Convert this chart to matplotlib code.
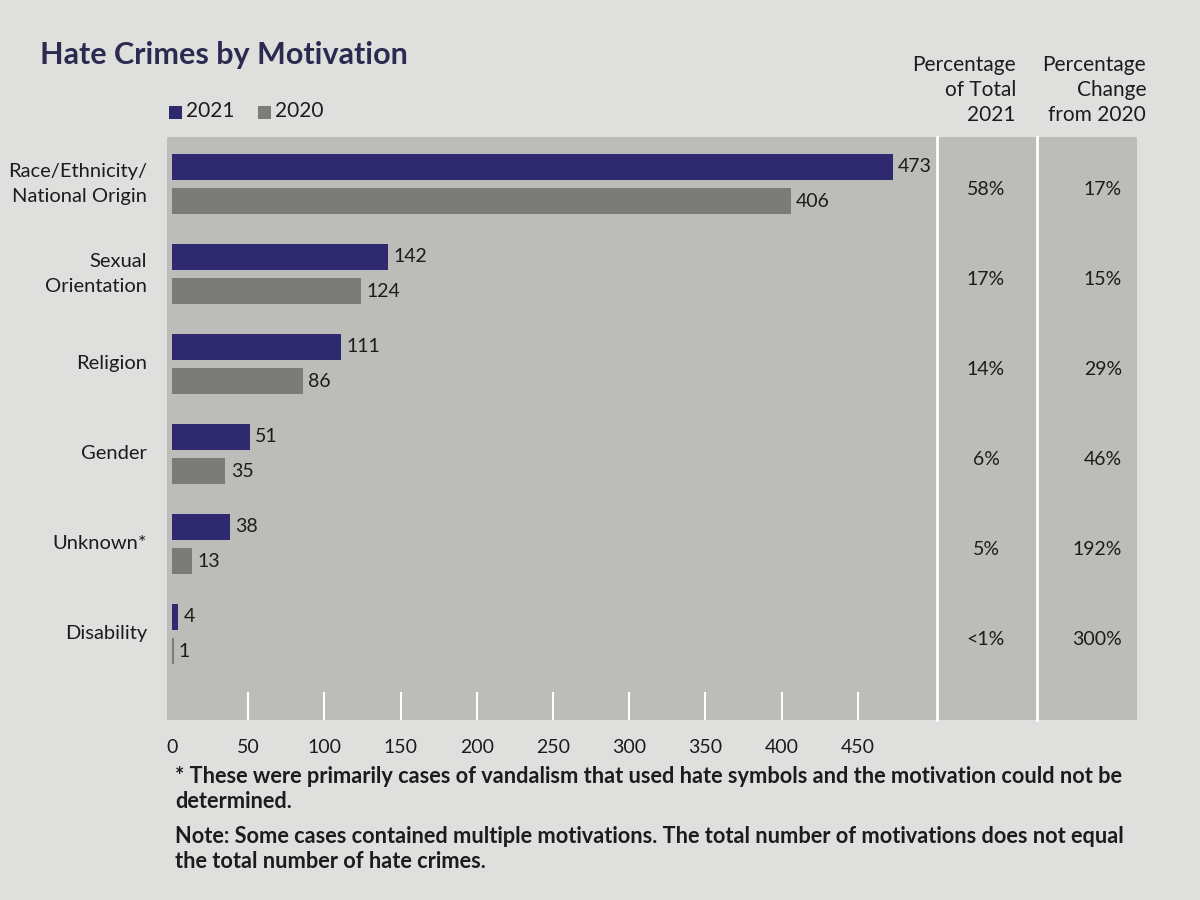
import matplotlib
matplotlib.use("Agg")
import matplotlib.pyplot as plt
from matplotlib.transforms import blended_transform_factory
from matplotlib.patches import Rectangle
from matplotlib.lines import Line2D

plt.rcParams['font.family'] = ['Lato', 'DejaVu Sans']

categories = ["Race/Ethnicity/\nNational Origin", "Sexual\nOrientation", "Religion",
              "Gender", "Unknown*", "Disability"]
v2021 = [473, 142, 111, 51, 38, 4]
v2020 = [406, 124, 86, 35, 13, 1]
pct_total = ["58%", "17%", "14%", "6%", "5%", "<1%"]
pct_change = ["17%", "15%", "29%", "46%", "192%", "300%"]
xticks = [0, 50, 100, 150, 200, 250, 300, 350, 400, 450]

C21 = "#2f2a70"
C20 = "#7b7b79"
PANEL = "#bcbcb8"
BG = "#dfdfdd"
TXT = "#1c1c1c"

W, H = 1200, 900
fig = plt.figure(figsize=(12, 9), dpi=100, facecolor=BG)

def fx(px):
    return px / W

def fy(py):
    return 1 - py / H

# grey panel behind plot and columns
fig.patches.append(Rectangle((fx(167), fy(720)), fx(1137) - fx(167), fy(137) - fy(720),
                             transform=fig.transFigure, facecolor=PANEL, edgecolor='none', zorder=-5))
for xp in (937, 1037):
    fig.lines.append(Line2D([fx(xp), fx(xp)], [fy(720), fy(137)], transform=fig.transFigure,
                            color="white", lw=2, zorder=-4))

ax = fig.add_axes([fx(167), fy(720), fx(935) - fx(167), fy(137) - fy(720)])
ax.set_zorder(2)
ax.patch.set_alpha(0)
n = len(categories)
ys = list(range(n))
bh = 0.29
off = 0.19
ax.barh([y - off for y in ys], v2021, height=bh, color=C21, zorder=2)
ax.barh([y + off for y in ys], v2020, height=bh, color=C20, zorder=2)
for y, a, b in zip(ys, v2021, v2020):
    ax.text(a + 3.5, y - off, str(a), va='center', ha='left', fontsize=14, color=TXT)
    ax.text(b + 3.5, y + off, str(b), va='center', ha='left', fontsize=14, color=TXT)

ax.set_xlim(-3.3, 500.6)
ax.set_ylim(5.956, -0.522)
ax.set_xticks(xticks)
ax.set_xticklabels([str(t) for t in xticks], fontsize=14, color=TXT)
ax.tick_params(axis='x', direction='in', length=20, width=1.5, color='white', pad=14)
ax.xaxis.get_major_ticks()[0].tick1line.set_visible(False)
ax.set_yticks([])
for s in ax.spines.values():
    s.set_visible(False)

tr = blended_transform_factory(fig.transFigure, ax.transData)
for y, lab in zip(ys, categories):
    ax.text(fx(147), y, lab, transform=tr, ha='right', va='center', fontsize=14.5,
            color=TXT, linespacing=1.55)
for y, p in zip(ys, pct_total):
    ax.text(fx(986), y + 0.06, p, transform=tr, ha='center', va='center', fontsize=14, color=TXT)
for y, p in zip(ys, pct_change):
    ax.text(fx(1122), y + 0.06, p, transform=tr, ha='right', va='center', fontsize=14, color=TXT)

# headers
fig.text(fx(1016), fy(125), "Percentage\nof Total\n2021", ha='right', va='bottom',
         fontsize=15, color=TXT, linespacing=1.3)
fig.text(fx(1146), fy(125), "Percentage\nChange\nfrom 2020", ha='right', va='bottom',
         fontsize=15, color=TXT, linespacing=1.3)

# title
fig.text(fx(40), fy(55), "Hate Crimes by Motivation", ha='left', va='center',
         fontsize=22, fontweight='bold', color="#2b2a50")

# legend
for xp, col, lab in ((169, C21, "2021"), (258, C20, "2020")):
    fig.patches.append(Rectangle((fx(xp), fy(119)), fx(13), 13 / H, transform=fig.transFigure,
                                 facecolor=col, edgecolor='none'))
    fig.text(fx(xp + 17), fy(111), lab, ha='left', va='center', fontsize=15, color=TXT)

# footnotes
fig.text(fx(175), fy(766), "* These were primarily cases of vandalism that used hate symbols and the motivation could not be\ndetermined.",
         ha='left', va='top', fontsize=15.7, fontweight='bold', color=TXT, linespacing=1.25)
fig.text(fx(175), fy(826), "Note: Some cases contained multiple motivations. The total number of motivations does not equal\nthe total number of hate crimes.",
         ha='left', va='top', fontsize=15.7, fontweight='bold', color=TXT, linespacing=1.25)

fig.savefig("out.png", dpi=100, facecolor=BG)
